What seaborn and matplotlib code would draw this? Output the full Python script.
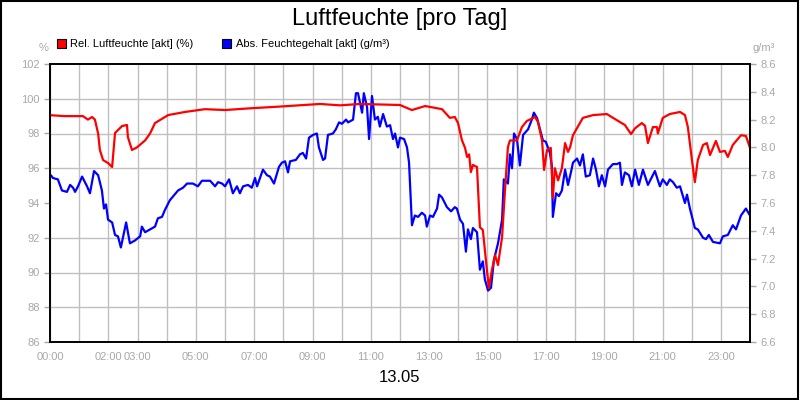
import matplotlib
matplotlib.use("Agg")
import matplotlib.pyplot as plt
import matplotlib.patches as mpatches
import seaborn as sns

# time of day in hours
rel_hours = [0.03, 0.51, 1.13, 1.30, 1.44, 1.54, 1.65, 1.71, 1.82, 1.99, 2.13, 2.23, 2.47, 2.64,
             2.67, 2.81, 2.98, 3.26, 3.43, 3.60, 4.05, 4.63, 5.31, 6.00, 6.86, 7.88, 9.26, 9.94,
             10.63, 12.00, 12.41, 12.86, 13.44, 13.71, 13.88, 13.99, 14.12, 14.23, 14.30, 14.37,
             14.43, 14.50, 14.64, 14.74, 14.84, 14.98, 15.05, 15.15, 15.26, 15.36, 15.50, 15.60,
             15.70, 15.77, 16.01, 16.18, 16.35, 16.63, 16.73, 16.87, 16.94, 17.04, 17.17, 17.24,
             17.31, 17.42, 17.55, 17.66, 17.76, 17.83, 17.93, 18.27, 18.62, 19.09, 19.54, 19.71,
             19.92, 20.06, 20.29, 20.40, 20.50, 20.67, 20.81, 20.84, 21.01, 21.25, 21.60, 21.77,
             21.87, 22.01, 22.11, 22.21, 22.39, 22.52, 22.63, 22.83, 22.97, 23.14, 23.24, 23.41,
             23.69, 23.86, 24.00]
rel_humidity = [99.05, 99.0, 99.0, 98.8, 98.95, 98.8, 98.0, 97.05, 96.47, 96.3, 96.07, 98.03,
                98.43, 98.49, 97.8, 97.05, 97.2, 97.6, 98.0, 98.6, 99.06, 99.24, 99.4, 99.35,
                99.45, 99.55, 99.7, 99.62, 99.7, 99.64, 99.35, 99.58, 99.4, 98.9, 98.95, 98.6,
                97.63, 97.17, 96.65, 96.8, 95.78, 96.19, 96.07, 92.6, 92.45, 90.14, 89.1, 90.14,
                91.0, 90.43, 92.04, 94.75, 97.22, 97.6, 97.6, 98.37, 98.72, 98.95, 98.66, 97.6,
                95.9, 97.05, 97.17, 94.3, 96.0, 95.3, 96.0, 97.45, 96.94, 97.2, 97.9, 98.9, 99.06,
                99.12, 98.66, 98.49, 97.97, 98.3, 98.6, 98.45, 97.45, 98.37, 98.37, 98.0, 98.9,
                99.12, 99.24, 99.06, 98.37, 96.47, 95.2, 96.47, 97.34, 97.45, 96.76, 97.57, 96.94,
                97.0, 96.65, 97.34, 97.9, 97.86, 97.17]

abs_hours = [0.03, 0.10, 0.27, 0.41, 0.58, 0.69, 0.79, 0.86, 0.96, 1.10, 1.27, 1.37, 1.51, 1.65,
             1.78, 1.85, 1.92, 1.99, 2.13, 2.23, 2.33, 2.43, 2.61, 2.74, 2.91, 3.09, 3.15, 3.26,
             3.43, 3.60, 3.70, 3.84, 3.94, 4.11, 4.39, 4.56, 4.70, 4.90, 5.07, 5.21, 5.49, 5.66,
             5.76, 5.90, 6.00, 6.14, 6.27, 6.41, 6.51, 6.62, 6.79, 6.92, 7.03, 7.10, 7.30, 7.44,
             7.54, 7.68, 7.85, 7.95, 8.06, 8.16, 8.23, 8.43, 8.57, 8.67, 8.78, 8.88, 9.02, 9.15,
             9.22, 9.36, 9.43, 9.53, 9.70, 9.80, 9.91, 10.01, 10.15, 10.22, 10.39, 10.49, 10.56,
             10.70, 10.76, 10.87, 10.94, 11.04, 11.14, 11.24, 11.31, 11.42, 11.55, 11.66, 11.76,
             11.83, 11.93, 12.00, 12.14, 12.24, 12.31, 12.38, 12.41, 12.51, 12.62, 12.75, 12.86,
             12.92, 13.03, 13.13, 13.27, 13.34, 13.44, 13.61, 13.75, 13.88, 13.95, 14.06, 14.16,
             14.26, 14.33, 14.43, 14.50, 14.64, 14.74, 14.84, 14.91, 15.02, 15.12, 15.22, 15.36,
             15.50, 15.56, 15.70, 15.77, 15.84, 15.91, 16.01, 16.11, 16.22, 16.39, 16.52, 16.59,
             16.70, 16.80, 16.90, 17.00, 17.14, 17.21, 17.24, 17.35, 17.45, 17.55, 17.66, 17.76,
             17.86, 17.93, 18.07, 18.17, 18.27, 18.37, 18.51, 18.62, 18.72, 18.82, 18.92, 19.03,
             19.13, 19.30, 19.44, 19.54, 19.61, 19.71, 19.85, 19.95, 20.06, 20.19, 20.33, 20.50,
             20.74, 20.91, 21.01, 21.15, 21.25, 21.36, 21.49, 21.60, 21.77, 21.84, 21.94, 22.11,
             22.21, 22.39, 22.49, 22.59, 22.73, 22.97, 23.07, 23.24, 23.41, 23.52, 23.69, 23.86,
             24.00]
abs_humidity = [7.80, 7.78, 7.77, 7.69, 7.68, 7.73, 7.71, 7.68, 7.72, 7.79, 7.72, 7.67, 7.83, 7.80,
                7.69, 7.56, 7.59, 7.48, 7.46, 7.37, 7.36, 7.28, 7.46, 7.31, 7.33, 7.36, 7.43, 7.39,
                7.41, 7.43, 7.49, 7.50, 7.55, 7.62, 7.69, 7.71, 7.74, 7.74, 7.72, 7.76, 7.76, 7.72,
                7.75, 7.74, 7.72, 7.77, 7.67, 7.72, 7.67, 7.72, 7.73, 7.71, 7.78, 7.72, 7.84, 7.80,
                7.79, 7.74, 7.86, 7.89, 7.90, 7.82, 7.90, 7.91, 7.95, 7.96, 7.92, 8.07, 8.09, 8.10,
                8.00, 7.91, 7.92, 8.09, 8.10, 8.13, 8.18, 8.17, 8.20, 8.18, 8.20, 8.39, 8.39, 8.25,
                8.39, 8.29, 8.06, 8.37, 8.20, 8.22, 8.15, 8.24, 8.15, 8.16, 8.06, 8.10, 8.00, 8.07,
                8.06, 8.00, 7.89, 7.57, 7.44, 7.51, 7.50, 7.53, 7.51, 7.43, 7.51, 7.50, 7.56, 7.66,
                7.64, 7.57, 7.54, 7.57, 7.56, 7.48, 7.45, 7.25, 7.41, 7.34, 7.42, 7.39, 7.12, 7.18,
                7.05, 6.97, 6.99, 7.19, 7.31, 7.48, 7.77, 7.74, 7.95, 7.85, 8.10, 8.06, 7.87, 8.09,
                8.13, 8.20, 8.25, 8.21, 8.13, 8.05, 8.04, 7.96, 7.86, 7.50, 7.67, 7.65, 7.69, 7.84,
                7.73, 7.82, 7.89, 7.92, 7.87, 7.95, 7.79, 7.80, 7.92, 7.84, 7.72, 7.80, 7.72, 7.84,
                7.88, 7.88, 7.89, 7.73, 7.82, 7.80, 7.72, 7.84, 7.73, 7.84, 7.73, 7.83, 7.72, 7.77,
                7.73, 7.77, 7.75, 7.71, 7.72, 7.60, 7.66, 7.56, 7.42, 7.41, 7.35, 7.34, 7.37, 7.32,
                7.31, 7.36, 7.37, 7.44, 7.41, 7.51, 7.56, 7.51]

tick_hours = list(range(0, 25))
labelled = {0: "00:00", 2: "02:00", 3: "03:00", 5: "05:00", 7: "07:00", 9: "09:00",
            11: "11:00", 13: "13:00", 15: "15:00", 17: "17:00", 19: "19:00", 21: "21:00",
            23: "23:00"}
tick_labels = [labelled.get(h, "") for h in tick_hours]

rel_lim = (86, 102)
abs_lim = (6.6, 8.6)
rel_ticks = list(range(86, 103, 2))
abs_ticks = [6.6 + 0.2 * i for i in range(11)]

sns.set_style("white")
plt.rcParams["font.family"] = ["Liberation Sans", "DejaVu Sans"]
plt.rcParams["text.color"] = "black"
grey = "#a8a8a8"

fig = plt.figure(figsize=(8, 4), dpi=100)

# bottom axes: absolute humidity (right scale) + the grid
ax = fig.add_axes([0.0625, 0.145, 0.875, 0.695])
sns.lineplot(x=abs_hours, y=abs_humidity, ax=ax, color="#0000ff", linewidth=1.6)

# top axes: relative humidity (left scale), drawn above the blue line
ax2 = ax.twinx()
sns.lineplot(x=rel_hours, y=rel_humidity, ax=ax2, color="#ff0000", linewidth=1.6)

# twinx moves the ticks, so put each scale on its side afterwards
ax.yaxis.tick_right()
ax.yaxis.set_label_position("right")
ax2.yaxis.tick_left()
ax2.yaxis.set_label_position("left")

ax.set_xlim(0, 24)
ax.set_ylim(*abs_lim)
ax.set_yticks(abs_ticks)
ax.set_yticklabels([f"{v:.1f}" for v in abs_ticks])
ax.set_xticks(tick_hours)
ax.set_xticklabels(tick_labels)
# horizontal grid follows the left (relative humidity) scale
grid_pos = [abs_lim[0] + (v - rel_lim[0]) * (abs_lim[1] - abs_lim[0]) / (rel_lim[1] - rel_lim[0])
            for v in rel_ticks]
ax.set_yticks(grid_pos, minor=True)
ax.grid(True, which="major", axis="x", color="#c0c0c0", linewidth=1)
ax.grid(True, which="minor", axis="y", color="#c0c0c0", linewidth=1)
ax.tick_params(axis="y", which="minor", length=0, labelright=False, labelleft=False)

ax2.set_ylim(*rel_lim)
ax2.set_yticks(rel_ticks)
ax2.grid(False)

for a in (ax, ax2):
    a.tick_params(axis="both", which="major", colors=grey, labelsize=8, length=4, width=1,
                  direction="out")
    for s in a.spines.values():
        s.set_color("black")
        s.set_linewidth(1.2)
ax.tick_params(axis="x", pad=3)

fig.text(0.5, 0.952, "Luftfeuchte [pro Tag]", ha="center", va="center", fontsize=17,
         color="black")
fig.text(0.5, 0.055, "13.05", ha="center", va="center", fontsize=12, color="black")
fig.text(0.054, 0.88, "%", ha="center", va="center", fontsize=8, color=grey)
fig.text(0.955, 0.88, "g/m³", ha="center", va="center", fontsize=8, color=grey)

handles = [mpatches.Patch(facecolor="#ff0000", edgecolor="black", linewidth=0.8,
                          label="Rel. Luftfeuchte [akt] (%)"),
           mpatches.Patch(facecolor="#0000ff", edgecolor="black", linewidth=0.8,
                          label="Abs. Feuchtegehalt [akt] (g/m³)")]
leg = fig.legend(handles=handles, loc="center left", bbox_to_anchor=(0.071, 0.889), ncol=2,
                 frameon=False, fontsize=8, handlelength=0.8, handleheight=0.8,
                 handletextpad=0.4, columnspacing=2.6, borderaxespad=0, borderpad=0)
for t in leg.get_texts():
    t.set_color("black")

fig.patches.append(mpatches.Rectangle((0.001, 0.002), 0.997, 0.996, transform=fig.transFigure,
                                      fill=False, edgecolor="black", linewidth=1.5))

fig.savefig("out.png", dpi=100)
